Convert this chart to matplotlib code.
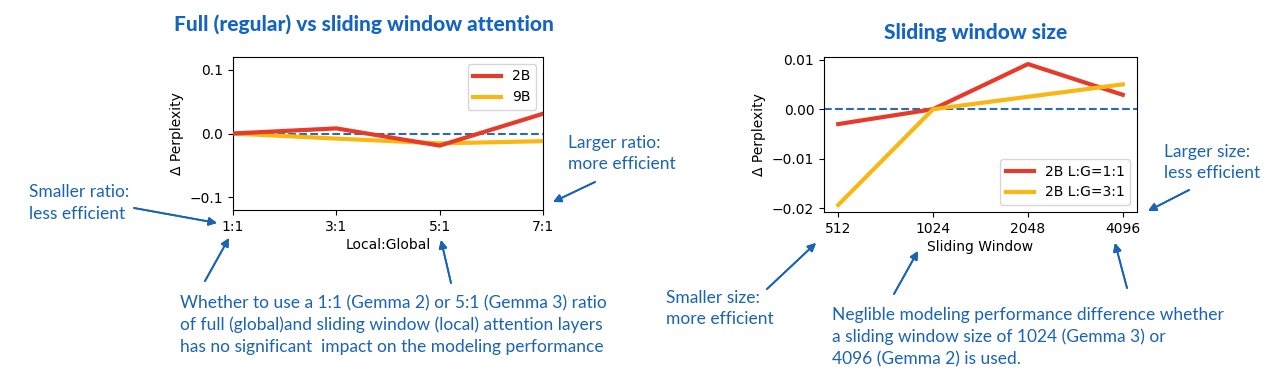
import numpy as np
import matplotlib.pyplot as plt

# left panel: local:global ratio
ratio_labels = ["1:1", "3:1", "5:1", "7:1"]
ppl_2b = [0.0, 0.008, -0.019, 0.031]
ppl_9b = [0.0, -0.008, -0.0155, -0.012]

# right panel: sliding window size
window_labels = ["512", "1024", "2048", "4096"]
ppl_lg11 = [-0.003, 0.0, 0.0091, 0.0029]
ppl_lg31 = [-0.0193, 0.0, 0.0025, 0.005]

RED = "#e63b2a"
YELLOW = "#f9b713"
DASH = "#2b6cb0"
NOTE = "#1b63b5"
TITLE = "#1565c0"

W, H = 1280, 381

def fx(x):
    return x / W

def fy(y):
    return 1 - y / H

note_font = "Lato"
title_font = "Lato"

fig = plt.figure(figsize=(12.8, 3.81), dpi=100)

ax1 = fig.add_axes([fx(233), fy(210), fx(543) - fx(233), fy(57) - fy(210)])
x1 = np.arange(len(ratio_labels))
ax1.axhline(0, color=DASH, ls="--", lw=1.5, zorder=1)
ax1.plot(x1, ppl_2b, color=RED, lw=3, label="2B", zorder=3)
ax1.plot(x1, ppl_9b, color=YELLOW, lw=3, label="9B", zorder=2)
ax1.set_xlim(0, 3)
ax1.set_ylim(-0.12, 0.12)
ax1.set_yticks([-0.1, 0.0, 0.1])
ax1.set_xticks(x1)
ax1.set_xticklabels(ratio_labels)
ax1.set_xlabel("Local:Global", fontsize=10, labelpad=3)
ax1.set_ylabel("Δ Perplexity", fontsize=10)
ax1.tick_params(labelsize=10)
ax1.legend(loc="upper right", fontsize=10)

ax2 = fig.add_axes([fx(824), fy(212), fx(1137) - fx(824), fy(57) - fy(212)])
x2 = np.arange(len(window_labels))
ax2.axhline(0, color=DASH, ls="--", lw=1.5, zorder=1)
ax2.plot(x2, ppl_lg11, color=RED, lw=3, label="2B L:G=1:1", zorder=2)
ax2.plot(x2, ppl_lg31, color=YELLOW, lw=3, label="2B L:G=3:1", zorder=3)
ax2.set_yticks([-0.02, -0.01, 0.0, 0.01])
ax2.set_xticks(x2)
ax2.set_xticklabels(window_labels)
ax2.set_xlabel("Sliding Window", fontsize=10, labelpad=3)
ax2.set_ylabel("Δ Perplexity", fontsize=10)
ax2.tick_params(labelsize=10)
ax2.legend(loc="lower right", fontsize=10)

# titles
fig.text(fx(364), fy(24), "Full (regular) vs sliding window attention", ha="center", va="center",
         fontsize=15, fontweight="black", color=TITLE, family=title_font)
fig.text(fx(976), fy(32), "Sliding window size", ha="center", va="center",
         fontsize=15, fontweight="black", color=TITLE, family=title_font)

# notes
notes = [
    (29, 203, "Smaller ratio:\nless efficient"),
    (568, 153.5, "Larger ratio:\nmore efficient"),
    (180, 325, "Whether to use a 1:1 (Gemma 2) or 5:1 (Gemma 3) ratio\n"
               "of full (global)and sliding window (local) attention layers\n"
               "has no significant  impact on the modeling performance"),
    (666, 308.5, "Smaller size:\nmore efficient"),
    (832, 337, "Neglible modeling performance difference whether\n"
               "a sliding window size of 1024 (Gemma 3) or\n"
               "4096 (Gemma 2) is used."),
    (1164, 162.5, "Larger size:\nless efficient"),
]
for x, y, s in notes:
    fig.text(fx(x), fy(y), s, ha="left", va="center", fontsize=12.5, color=NOTE,
             family=note_font, linespacing=1.42)

arrows = [
    ((134, 208), (217, 223)),
    ((205, 281), (229, 238)),
    ((451, 283), (441, 240)),
    ((595, 182), (553, 202)),
    ((767, 289), (816, 243)),
    ((894, 294), (918, 251)),
    ((1127, 288), (1115, 243)),
    ((1189, 190), (1148, 211)),
]
for (xs, ys), (xe, ye) in arrows:
    fig.add_artist(plt.annotate("", xy=(fx(xe), fy(ye)), xytext=(fx(xs), fy(ys)),
                                xycoords="figure fraction", textcoords="figure fraction",
                                arrowprops=dict(arrowstyle="-|>", color=NOTE, lw=1.3,
                                                mutation_scale=12, shrinkA=0, shrinkB=0)))

fig.savefig("out.png", dpi=100)
